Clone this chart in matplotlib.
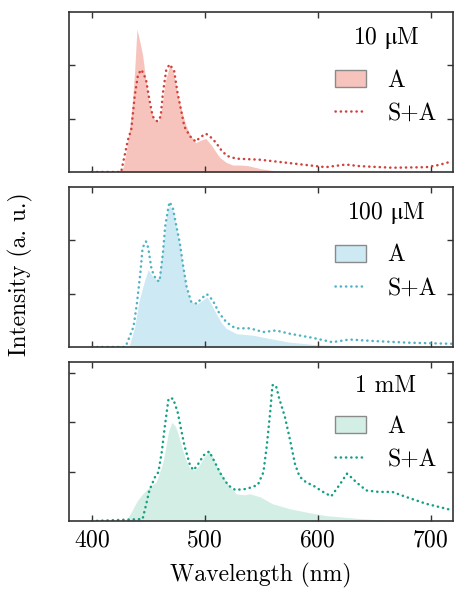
import matplotlib
matplotlib.use("Agg")
import matplotlib.pyplot as plt
from matplotlib.patches import Patch
from matplotlib.lines import Line2D

plt.rcParams['font.family'] = ['cmr10', 'DejaVu Serif']
plt.rcParams['axes.formatter.use_mathtext'] = True
plt.rcParams['mathtext.fontset'] = 'stix'
plt.rcParams['font.size'] = 17

# ---------------- data ----------------
# 10 uM
wl_a1 = [400, 425, 428, 431, 434, 436, 438, 440, 442, 445, 448, 451, 455, 459, 462, 465, 469, 472, 475, 479, 483, 487, 492, 497, 501, 506, 513, 519, 525, 532, 538, 544, 550, 563, 580, 720]
a1 = [0, 0, 0.1, 0.45, 0.9, 1.3, 1.9, 2.68, 2.5, 2.2, 1.7, 1.25, 1.0, 0.94, 1.2, 1.7, 2.0, 1.9, 1.55, 1.2, 0.9, 0.7, 0.55, 0.6, 0.63, 0.5, 0.28, 0.18, 0.13, 0.13, 0.12, 0.09, 0.06, 0.02, 0.0, 0.0]
wl_sa1 = [400, 426, 429, 432, 435, 438, 441, 444, 448, 451, 454, 458, 461, 463, 466, 469, 473, 476, 479, 482, 487, 492, 496, 501, 505, 510, 515, 520, 528, 549, 578, 607, 625, 637, 666, 696, 707, 719]
sa1 = [0, 0, 0.3, 0.6, 0.8, 1.42, 1.83, 1.92, 1.74, 1.36, 1.04, 0.95, 1.04, 1.48, 1.92, 2.02, 1.89, 1.48, 1.17, 0.85, 0.67, 0.57, 0.65, 0.72, 0.66, 0.55, 0.4, 0.3, 0.25, 0.23, 0.16, 0.09, 0.14, 0.11, 0.08, 0.09, 0.13, 0.2]

# 100 uM
wl_a2 = [400, 433, 438, 442, 447, 450, 454, 459, 462, 465, 467, 469, 472, 475, 478, 481, 484, 487, 492, 497, 502, 506, 510, 515, 519, 528, 543, 557, 575, 600, 640, 720]
a2 = [0, 0, 0.38, 0.88, 1.26, 1.45, 1.32, 1.23, 1.7, 2.2, 2.55, 2.65, 2.55, 2.22, 1.9, 1.48, 1.1, 0.88, 0.79, 0.86, 0.94, 0.8, 0.63, 0.45, 0.35, 0.25, 0.22, 0.16, 0.09, 0.04, 0.01, 0.0]
wl_sa2 = [400, 429, 431, 437, 440, 443, 445, 448, 450, 453, 457, 460, 463, 465, 468, 469, 472, 475, 478, 481, 484, 488, 493, 497, 502, 507, 513, 519, 524, 528, 540, 552, 563, 575, 596, 613, 628, 651, 681, 719]
sa2 = [0, 0, 0.06, 0.38, 0.82, 1.38, 1.86, 1.98, 1.86, 1.45, 1.26, 1.23, 1.76, 2.26, 2.64, 2.72, 2.59, 2.26, 1.95, 1.51, 1.13, 0.85, 0.81, 0.91, 0.99, 0.88, 0.63, 0.47, 0.39, 0.35, 0.35, 0.28, 0.31, 0.25, 0.17, 0.09, 0.14, 0.11, 0.08, 0.06]

# 1 mM
wl_a3 = [400, 430, 435, 440, 444, 448, 453, 457, 460, 463, 466, 468, 471, 474, 476, 479, 481, 484, 487, 491, 495, 499, 504, 507, 510, 515, 519, 524, 528, 535, 540, 549, 560, 575, 590, 607, 637, 666, 720]
a3 = [0, 0, 0.18, 0.4, 0.52, 0.62, 0.72, 0.79, 0.98, 1.19, 1.55, 1.82, 2.0, 1.92, 1.8, 1.55, 1.4, 1.2, 1.06, 1.03, 1.12, 1.28, 1.43, 1.3, 1.13, 0.95, 0.79, 0.65, 0.55, 0.53, 0.55, 0.49, 0.35, 0.25, 0.18, 0.11, 0.05, 0.01, 0.0]
wl_sa3 = [400, 445, 448, 451, 456, 459, 462, 465, 468, 472, 476, 479, 482, 487, 490, 493, 499, 504, 509, 515, 521, 527, 537, 547, 552, 555, 558, 560, 563, 566, 571, 575, 580, 584, 590, 596, 604, 612, 619, 626, 630, 634, 643, 654, 666, 678, 696, 719]
sa3 = [0, 0.04, 0.32, 0.62, 0.89, 0.99, 1.40, 1.97, 2.48, 2.48, 2.21, 1.87, 1.53, 1.13, 1.03, 1.11, 1.33, 1.41, 1.19, 0.92, 0.72, 0.63, 0.65, 0.73, 0.99, 1.53, 2.21, 2.75, 2.75, 2.48, 2.11, 1.70, 1.15, 0.9, 0.78, 0.72, 0.6, 0.5, 0.72, 0.96, 0.88, 0.79, 0.62, 0.59, 0.59, 0.49, 0.35, 0.22]

conc_labels = [r'10 $\mathrm{\mu}$M', r'100 $\mathrm{\mu}$M', '1 mM']
series_labels = ['A', 'S+A']
x_ticks = [400, 500, 600, 700]

fill_colors = ['#f6c4bd', '#cde9f3', '#d3eee5']
line_colors = ['#d2403a', '#4fb3c4', '#15a084']
ymax = [3.0, 3.0, 3.22]

fig = plt.figure(figsize=(4.55, 5.9), dpi=100)
boxes = [
    [0.152, 0.7085, 0.844, 0.271],
    [0.152, 0.4119, 0.844, 0.271],
    [0.152, 0.1169, 0.844, 0.2695],
]
data = [(wl_a1, a1, wl_sa1, sa1), (wl_a2, a2, wl_sa2, sa2), (wl_a3, a3, wl_sa3, sa3)]
dots = (0, (0.1, 2.0))

for i, (box, (wa, ya, ws, ys)) in enumerate(zip(boxes, data)):
    ax = fig.add_axes(box)
    ax.fill_between(wa, 0, ya, color=fill_colors[i], lw=0)
    ax.plot(ws, ys, color=line_colors[i], lw=1.8,
            linestyle=dots, dash_capstyle='round')
    ax.set_xlim(380, 720)
    ax.set_ylim(0, ymax[i])
    ax.set_xticks(x_ticks)
    ax.set_yticks([1, 2] if i < 2 else [1, 2, 3])
    ax.set_yticklabels([])
    ax.tick_params(direction='in', top=True, right=True, length=4, width=1,
                   color='#333333', labelsize=17, pad=6)
    if i < 2:
        ax.set_xticklabels([])
    else:
        ax.set_xlabel('Wavelength (nm)', fontsize=17, labelpad=8)
    for s in ax.spines.values():
        s.set_color('#333333')
        s.set_linewidth(1.2)
    handles = [Patch(facecolor=fill_colors[i], edgecolor='#8a8a8a', lw=1),
               Line2D([], [], color=line_colors[i], lw=1.8,
                      linestyle=dots, dash_capstyle='round')]
    leg = ax.legend(handles, series_labels, title=conc_labels[i], loc='upper right',
                    bbox_to_anchor=(1.0, 1.025), frameon=False, fontsize=17,
                    title_fontsize=17, labelspacing=0.47, handlelength=1.3,
                    handleheight=0.75, handletextpad=0.9, borderaxespad=0.3)
    leg._legend_box.sep = 13.5

fig.text(0.045, 0.535, 'Intensity (a. u.)', rotation=90, ha='center', va='center', fontsize=17)

fig.savefig('out.png', dpi=100)
